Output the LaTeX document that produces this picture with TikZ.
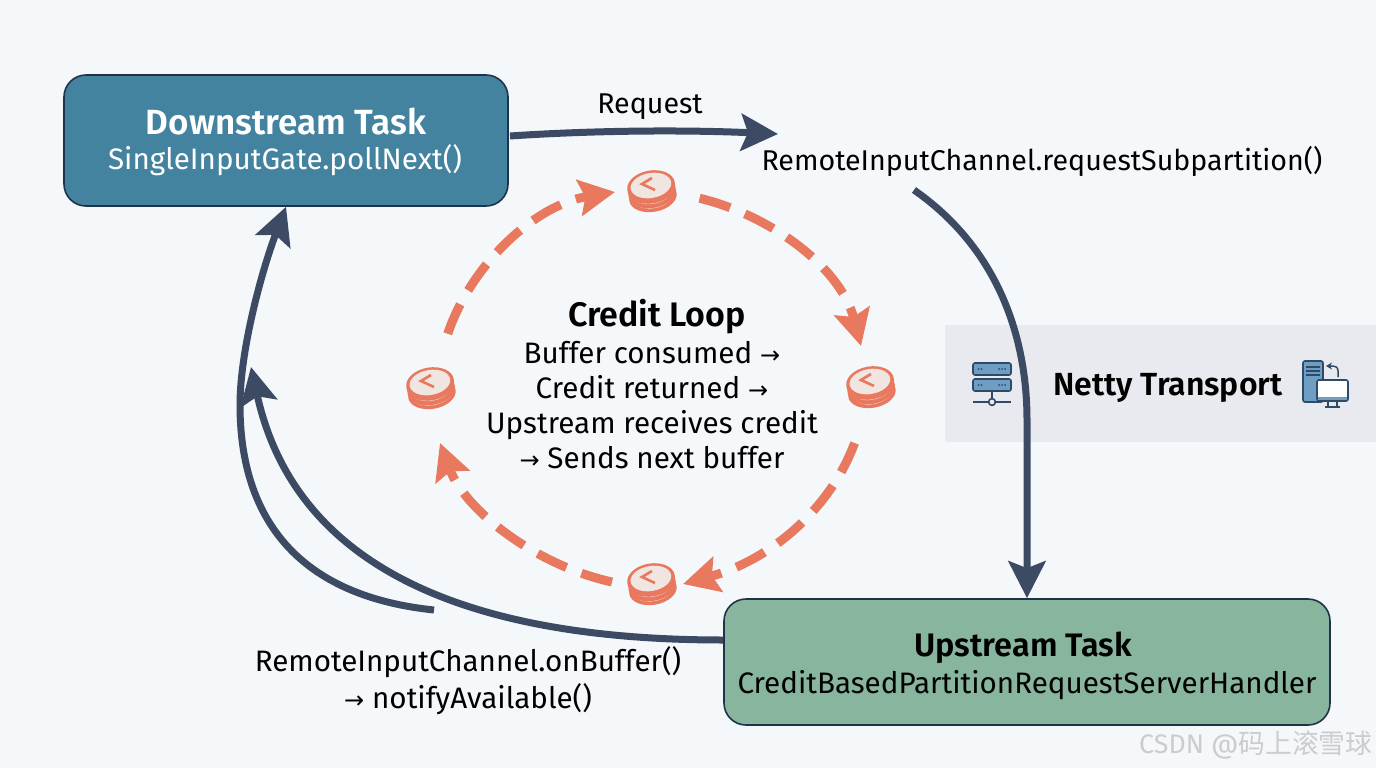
\documentclass[tikz,border=0pt]{standalone}
\usepackage{fontspec}
\setmainfont{Fira Sans}[BoldFont={Fira Sans SemiBold}]
\newfontfamily\cjkfont{Noto Sans CJK SC}
\newfontfamily\symfont{DejaVu Sans}
\usetikzlibrary{arrows.meta,calc,shapes.geometric}
\definecolor{bgcol}{HTML}{F5F8FB}
\definecolor{bandcol}{HTML}{E8EAEF}
\definecolor{dwncol}{HTML}{44839F}
\definecolor{upcol}{HTML}{87B59D}
\definecolor{edgecol}{HTML}{1E3348}
\definecolor{flowcol}{HTML}{3C4A63}
\definecolor{coral}{HTML}{E8795F}
\definecolor{pale}{HTML}{F0E5E0}
\definecolor{iconblue}{HTML}{6E9EC4}
\definecolor{iconedge}{HTML}{2F4A66}
\definecolor{wmark}{HTML}{C9CDD0}
\newcommand{\arr}{{\symfont\fontsize{24}{24}\selectfont →}}
\tikzset{
  box/.style={draw=edgecol,line width=1.6pt,rounded corners=22pt,inner sep=0pt},
  txt/.style={inner sep=0pt,align=center,text=black,font=\fontsize{29.6}{35}\selectfont},
  flow/.style={draw=flowcol,line width=7pt,-{Stealth[length=37pt,width=37pt,inset=7pt]}},
  loopflow/.style={draw=coral,line width=9pt,dash pattern=on 32pt off 16pt,dash phase=20pt,{Stealth[length=36pt,width=36pt,inset=6pt]}-},
  coinspot/.style={circle,minimum size=50pt,inner sep=0pt},
  coinpic/.pic={
    \begin{scope}[rotate=10]
      \fill[coral] (0,11) ellipse [x radius=24pt,y radius=15pt];
      \fill[pale] (0,8.8) ellipse [x radius=21.5pt,y radius=13.6pt];
      \fill[coral] (0,7) ellipse [x radius=24pt,y radius=15pt];
      \fill[pale] (0,4.3) ellipse [x radius=21.5pt,y radius=13.6pt];
      \fill[coral] (0,2.5) ellipse [x radius=24pt,y radius=15pt];
      \fill[coral] (0,0) ellipse [x radius=24pt,y radius=15.5pt];
      \fill[pale] (0,-0.5) ellipse [x radius=20.5pt,y radius=12.5pt];
    \end{scope}
    \draw[coral,line width=2.6pt] (1,-8) -- (-9,-2) -- (4,4);
  }
}
\begin{document}
\begin{tikzpicture}[x=1pt,y=-1pt]
\useasboundingbox (0,0) rectangle (1376,768);
\fill[bgcol] (0,0) rectangle (1376,768);
\fill[bandcol] (945,325) rectangle (1376,442);

% boxes
\node[box,fill=dwncol,minimum width=444pt,minimum height=131pt] (down) at (286,140.5) {};
\node[box,fill=upcol,minimum width=606pt,minimum height=126pt] (up) at (1027,662) {};
\node[inner sep=0pt,text=white,font=\fontsize{35}{38}\selectfont\bfseries] (downt) at (286,122) {Downstream Task};
\node[inner sep=0pt,text=white,font=\fontsize{29.6}{32}\selectfont] (downs) at (285,160) {SingleInputGate.pollNext()};
\node[txt,font=\fontsize{32.5}{35}\selectfont\bfseries] (upt) at (1023,648) {Upstream Task};
\node[txt] (ups) at (1027,685) {CreditBasedPartitionRequestServerHandler};

% labels
\node[txt,font=\fontsize{28.6}{35}\selectfont] (req) at (650,107) {Request};
\node[txt,font=\fontsize{28.6}{35}\selectfont] (reqs) at (1042,161) {RemoteInputChannel.requestSubpartition()};
\node[txt,font=\fontsize{29.6}{37}\selectfont] (onb) at (468,681) {RemoteInputChannel.onBuffer()\\\arr{} notifyAvailable()};
\node[txt,font=\fontsize{34}{36}\selectfont\bfseries] (loopt) at (657,317) {Credit Loop};
\node[txt] (loopb) at (652,405) {Buffer consumed \arr\\Credit returned \arr\\Upstream receives credit\\\arr{} Sends next buffer};
\node[txt,font=\fontsize{32}{35}\selectfont\bfseries] (netty) at (1168,388) {Netty Transport};

% solid connectors
\coordinate (reqstart) at (510,136);
\coordinate (reqend) at (778,134);
\coordinate (nettystart) at (914,190);
\coordinate (outerstart) at (434,610);
\coordinate (innerend) at (251,367);
\draw[flow] (reqstart) .. controls (600,130) and (690,130) .. (reqend);
\draw[flow] (nettystart) .. controls (1000,250) and (1027,340) .. (1027,420) -- (up.north);
\draw[flow] (outerstart) .. controls (290,595) and (240,510) .. (240,405) .. controls (240,350) and (262,270) .. (down.south);
\draw[flow] ([yshift=22pt]up.west) .. controls (510,640) and (300,590) .. (innerend);

% coins
\node[coinspot] (ctop) at (651,186) {};
\node[coinspot] (cright) at (870,382) {};
\node[coinspot] (cbot) at (651,579) {};
\node[coinspot] (cleft) at (430,383) {};
\pic at (ctop) {coinpic};
\pic at (cright) {coinpic};
\pic at (cbot) {coinpic};
\pic at (cleft) {coinpic};

% credit loop connectors
\coordinate (a1) at (447,336);
\coordinate (a2) at (694,197);
\coordinate (a3) at (855,442);
\coordinate (a4) at (612,582);
\coordinate (e1) at (615,192);
\coordinate (e2) at (861,346);
\coordinate (e3) at (683,584);
\coordinate (e4) at (440,443);
\draw[loopflow] (e1) .. controls (535,205) and (470,265) .. (a1);
\draw[loopflow] (e2) .. controls (840,265) and (765,212) .. (a2);
\draw[loopflow] (e3) .. controls (770,560) and (830,510) .. (a3);
\draw[loopflow] (e4) .. controls (465,510) and (535,565) .. (a4);

% server icon
\begin{scope}[draw=iconedge,line width=1.6pt]
  \filldraw[fill=iconblue,rounded corners=2pt] (973,363) rectangle (1011,375);
  \filldraw[fill=iconblue,rounded corners=2pt] (973,379) rectangle (1011,391);
  \draw (992,391) -- (992,398);
  \draw (973,402) -- (1011,402);
  \filldraw[fill=bandcol] (992,402) circle [radius=3.4pt];
\end{scope}
\foreach \yy in {369,385}{
  \foreach \xx in {978.5,981.5,999,1002,1005}{
    \fill[iconedge] (\xx,\yy) circle [radius=1pt];
  }
}
% computer icon
\begin{scope}[draw=iconedge,line width=1.6pt]
  \filldraw[fill=iconblue,rounded corners=2pt] (1303,361) rectangle (1323,402);
  \draw (1306,367) -- (1320,367) (1306,371) -- (1320,371) (1306,375) -- (1320,375);
  \draw[line width=1.5pt,-{Stealth[length=6pt,width=7pt]}] (1338,377) -- (1338,371) .. controls (1338,367) and (1336,366) .. (1326,366);
  \filldraw[fill=white,rounded corners=2pt] (1317,380) rectangle (1348,401);
  \fill[iconblue] (1318,397) rectangle (1347,400);
  \draw (1328,401) -- (1328,407) (1337,401) -- (1337,407) (1325,407) -- (1340,407);
\end{scope}

% watermark
\node[inner sep=0pt,anchor=west,text=wmark,font=\fontsize{26.8}{28}\selectfont] (wm) at (1139,745) {CSDN @{\cjkfont 码上滚雪球}};
\end{tikzpicture}
\end{document}
